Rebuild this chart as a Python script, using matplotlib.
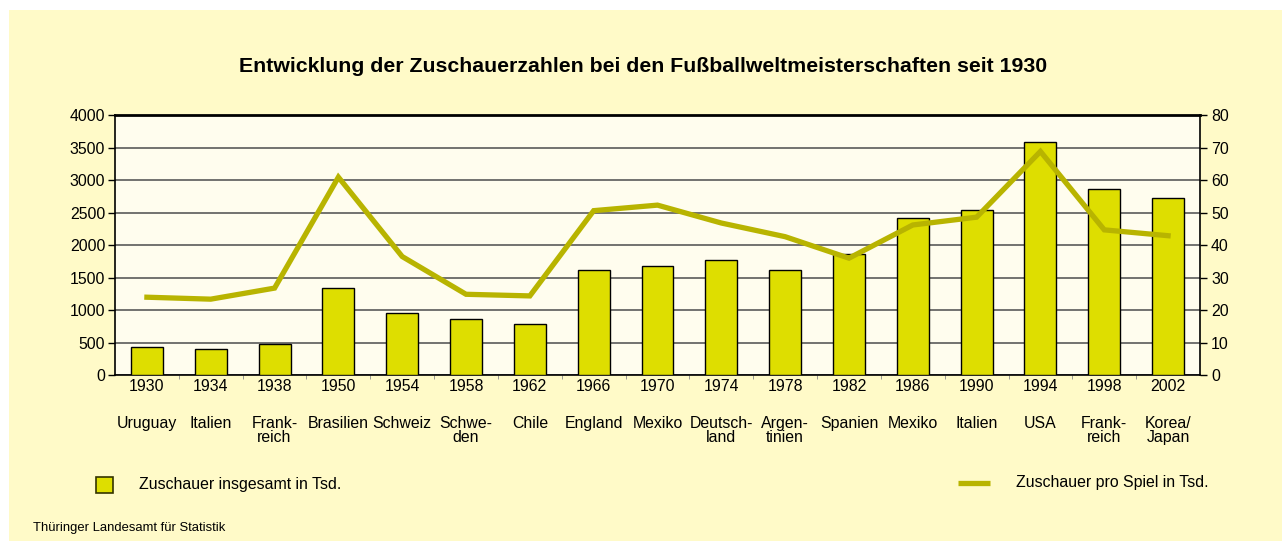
import numpy as np
import matplotlib.pyplot as plt
from matplotlib.patches import Rectangle
from matplotlib.lines import Line2D

plt.rcParams['font.family'] = ['Liberation Sans', 'DejaVu Sans']

# data
years = ['1930', '1934', '1938', '1950', '1954', '1958', '1962', '1966', '1970',
         '1974', '1978', '1982', '1986', '1990', '1994', '1998', '2002']
hosts = ['Uruguay', 'Italien', 'Frank-\nreich', 'Brasilien', 'Schweiz', 'Schwe-\nden',
         'Chile', 'England', 'Mexiko', 'Deutsch-\nland', 'Argen-\ntinien', 'Spanien',
         'Mexiko', 'Italien', 'USA', 'Frank-\nreich', 'Korea/\nJapan']
total = [437, 398, 485, 1337, 950, 870, 782, 1617, 1680, 1777, 1613, 1860,
         2418, 2535, 3578, 2865, 2728]
per_game = [24.0, 23.4, 26.8, 60.9, 36.5, 24.9, 24.4, 50.6, 52.3, 46.8, 42.6, 36.0,
            46.2, 48.6, 68.8, 44.7, 42.9]

bar_col = '#dede00'
line_col = '#b8b400'
bg_col = '#fffac8'
fs = 11.4

fig = plt.figure(figsize=(12.82, 5.41), dpi=100, facecolor='white')
W, H = 1282, 541
fig.patches.append(Rectangle((9 / W, 0), 1 - 9 / W, 1 - 10 / H, transform=fig.transFigure,
                             facecolor=bg_col, edgecolor='none', zorder=-10))

ax = fig.add_axes([115 / W, 1 - 375.3 / H, (1200 - 115) / W, 260.3 / H])
ax.set_facecolor('#fffdee')
x = np.arange(len(years))
ax.bar(x, total, width=0.5, color=bar_col, edgecolor='black', linewidth=1.0, zorder=3)
ax.set_xlim(-0.5, len(years) - 0.5)
ax.set_ylim(0, 4000)
ax.set_yticks(np.arange(0, 4001, 500))
ax.yaxis.grid(True, color='#5a5a5a', linewidth=1.2, zorder=0)
ax.set_axisbelow(True)
ax.set_xticks(x)
ax.set_xticklabels(years, fontsize=fs)
ax.tick_params(axis='x', length=0, pad=3)
ax.set_xticks(np.arange(0.5, len(years) - 1, 1), minor=True)
ax.tick_params(axis='x', which='minor', length=3, color='#888888')
ax.tick_params(axis='y', labelsize=fs, length=5, width=1, pad=2)
for s in ax.spines.values():
    s.set_color('black')
ax.spines['top'].set_linewidth(2)
ax.spines['left'].set_linewidth(1.2)
ax.spines['bottom'].set_linewidth(1.2)
ax.spines['right'].set_linewidth(1.2)

for xi, name in zip(x, hosts):
    ax.annotate(name, xy=(xi, 0), xycoords=('data', 'axes fraction'),
                xytext=(0, -29), textcoords='offset points', ha='center', va='top',
                fontsize=fs, linespacing=0.95)

ax2 = ax.twinx()
ax2.plot(x, per_game, color=line_col, linewidth=3.8, solid_joinstyle='miter', zorder=5)
ax2.set_ylim(0, 80)
ax2.set_yticks(np.arange(0, 81, 10))
ax2.tick_params(axis='y', labelsize=fs, length=5, width=1, pad=3)
for s in ax2.spines.values():
    s.set_visible(False)

fig.text(643 / W, 1 - 67 / H, 'Entwicklung der Zuschauerzahlen bei den Fußballweltmeisterschaften seit 1930',
         ha='center', va='center', fontsize=15.3, fontweight='bold')

# legend
fig.patches.append(Rectangle((96 / W, 1 - 493 / H), 17 / W, 16 / H, transform=fig.transFigure,
                             facecolor=bar_col, edgecolor='#333300', linewidth=1.2))
fig.text(139 / W, 1 - 485 / H, 'Zuschauer insgesamt in Tsd.', ha='left', va='center', fontsize=fs)
fig.lines.append(Line2D([958 / W, 990 / W], [1 - 482.7 / H] * 2, transform=fig.transFigure,
                        color=line_col, linewidth=3.8, solid_capstyle='butt'))
fig.text(1016 / W, 1 - 483 / H, 'Zuschauer pro Spiel in Tsd.', ha='left', va='center', fontsize=fs)

fig.text(33 / W, 1 - 528 / H, 'Thüringer Landesamt für Statistik', ha='left', va='center', fontsize=9.4)

fig.savefig('out.png', dpi=100, facecolor=fig.get_facecolor())
